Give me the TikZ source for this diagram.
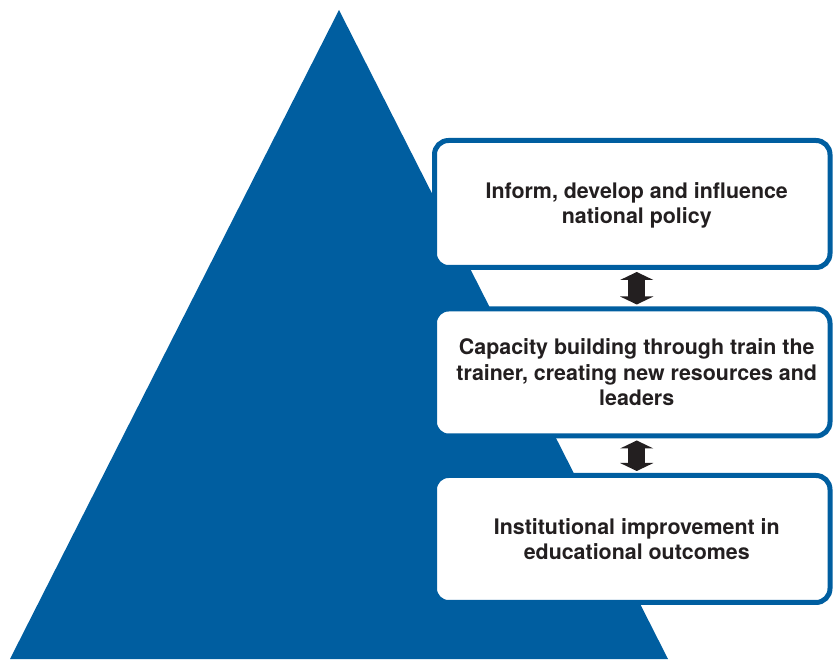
\documentclass[tikz,border=0pt]{standalone}
\usepackage{fontspec}
\setmainfont{TeX Gyre Heros}
\usepackage{tikz}
\usetikzlibrary{arrows.meta,calc}
\definecolor{pyrblue}{RGB}{0,94,160}
\definecolor{arrowgrey}{RGB}{35,31,32}
\newcommand{\rimwidth}{5pt}
\newcommand{\textshift}{4.5pt}

\tikzset{
    tier/.style = {draw=pyrblue, fill=white, line width=\rimwidth, rounded corners=14pt,
                   minimum width=395.5pt, minimum height=127pt, inner sep=0pt},
    tiertext/.style = {align=center, text=arrowgrey, font=\fontsize{21.4}{25.5}\selectfont\bfseries},
    twoway/.style = {draw=arrowgrey, line width=17pt, shorten <=2pt, shorten >=2pt,
                     {Triangle[length=8pt,width=33pt]}-{Triangle[length=8pt,width=33pt]}}
}

\begin{document}
\begin{tikzpicture}[x=1pt,y=1pt]
    \useasboundingbox (0,0) rectangle (833,659);

        %Pyramid
        \coordinate (apex) at (339,649);
        \coordinate (left) at (10,0);
        \coordinate (right) at (668,0);
        \fill[pyrblue] (apex) -- (left) -- (right) -- cycle;

        %Tiers
        \foreach\i/\y in {1/455,2/286.5,3/120} {
            \node[tier] (box\i) at (632.25,\y) {};
        }
        \node[tiertext] (text1) at ([xshift=\textshift,yshift=-1.5pt]box1.center) {Inform, develop and influence\\national policy};
        \node[tiertext] (text2) at ([xshift=\textshift]box2.center) {Capacity building through train the\\trainer, creating new resources and\\leaders};
        \node[tiertext] (text3) at ([xshift=\textshift]box3.center) {Institutional improvement in\\educational outcomes};

        %Arrows
        \foreach\a/\b in {1/2,2/3} {
            \draw[twoway] ([xshift=\textshift]box\a.south) -- ([xshift=\textshift]box\b.north);
        }
\end{tikzpicture}
\end{document}
